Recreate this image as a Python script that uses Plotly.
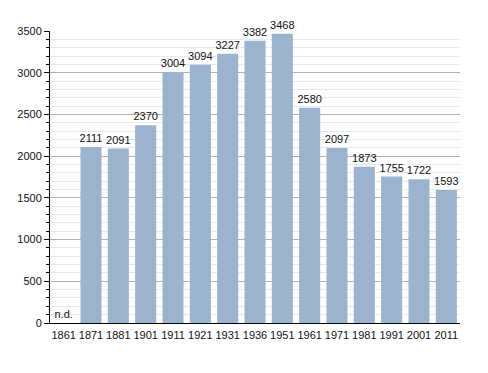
import plotly.graph_objects as go

years = ["1861", "1871", "1881", "1901", "1911", "1921", "1931", "1936", "1951",
         "1961", "1971", "1981", "1991", "2001", "2011"]
population = [0, 2111, 2091, 2370, 3004, 3094, 3227, 3382, 3468,
              2580, 2097, 1873, 1755, 1722, 1593]
labels = ["n.d.", "2111", "2091", "2370", "3004", "3094", "3227", "3382", "3468",
          "2580", "2097", "1873", "1755", "1722", "1593"]

fig = go.Figure(go.Bar(
    x=years, y=population, text=labels, textposition="outside",
    textfont=dict(size=11, color="#111"), cliponaxis=False,
    marker=dict(color="#9ab3cf", line=dict(width=0)),
))

fig.update_layout(
    width=488, height=373,
    margin=dict(l=42, r=36, t=23, b=58),
    paper_bgcolor="white", plot_bgcolor="white",
    font=dict(family="Liberation Sans, Arial, sans-serif", size=11, color="#111"),
    uniformtext=dict(minsize=11, mode="show"),
    bargap=0.23, showlegend=False,
    xaxis=dict(type="category", showline=True, linecolor="black", linewidth=1,
               ticks="", tickfont=dict(size=11), ticklabelstandoff=2),
    yaxis=dict(range=[0, 3500], dtick=500, showgrid=True, gridcolor="#b0b0b0",
               gridwidth=1, showline=True, linecolor="black", linewidth=1,
               ticks="outside", ticklen=5, tickcolor="black", zeroline=False,
               automargin=False,
               minor=dict(dtick=100, showgrid=True, gridcolor="#e8e8e8",
                          ticks="outside", ticklen=3, tickcolor="black")),
)

fig.write_html("out.html")
